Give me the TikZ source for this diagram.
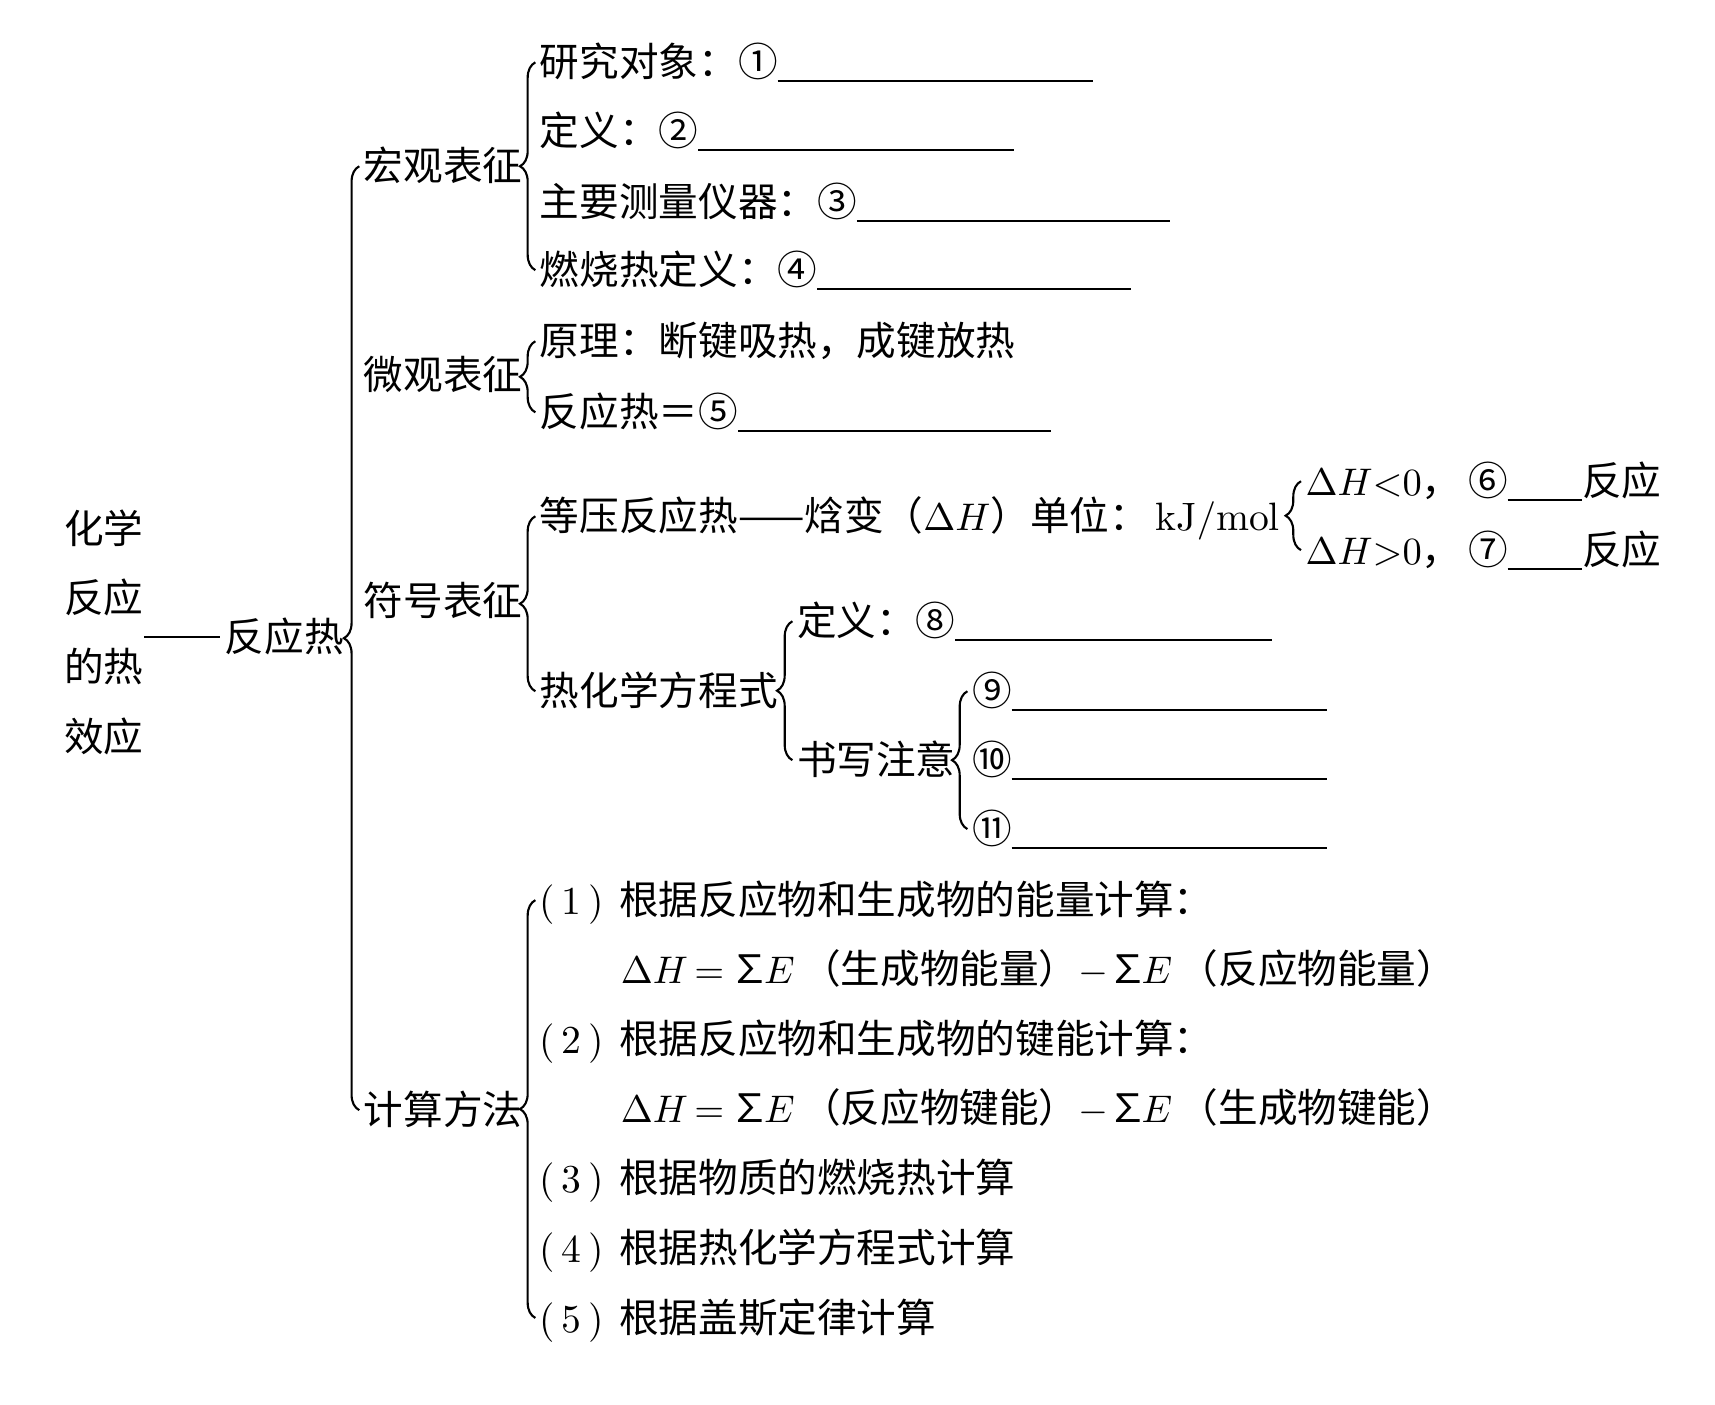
\documentclass[tikz,border=0pt]{standalone}
\usepackage{fontspec}
\newfontfamily\cjk{Noto Sans CJK SC}
\usepackage{tikz}
\usetikzlibrary{decorations.pathreplacing}

\newcommand{\blank}[1]{\rule[-1.5pt]{#1}{0.5pt}}
\newcommand{\itemno}[1]{\makebox[2em][l]{\rmfamily(\,#1\,)}}

\begin{document}
\begin{tikzpicture}[x=0.01cm, y=-0.01cm,
    every node/.style={font=\cjk\fontsize{10.3pt}{18pt}\selectfont, inner sep=0pt},
    item/.style={anchor=base west},
    title/.style={align=center, anchor=center},
    brc/.style={decorate, decoration={brace, amplitude=4pt}, line width=0.55pt},
]
\useasboundingbox (0,0) rectangle (1568,1284);

\node[title] (title) at (95,578) {化学\\反应\\的热\\效应};
\node[item] (fyr) at (205,596) {反应热};

\node[item] (hg) at (332,165) {宏观表征};
\node[item] (wg) at (332,356) {微观表征};
\node[item] (fh) at (332,563) {符号表征};
\node[item] (js) at (332,1028) {计算方法};

% 宏观表征
\node[item] (yj) at (493,70) {研究对象：①\blank{2.88cm}};
\node[item] (dy) at (493,133) {定义：②\blank{2.88cm}};
\node[item] (cl) at (493,198) {主要测量仪器：③\blank{2.86cm}};
\node[item] (rs) at (493,260) {燃烧热定义：④\blank{2.87cm}};

% 微观表征
\node[item] (yl) at (493,325) {原理：断键吸热，成键放热};
\node[item] (fy) at (493,390) {反应热＝⑤\blank{2.86cm}};

% 符号表征
\node[item] (dyr) at (493,485) {等压反应热——焓变（$\Delta H$）单位：\,$\mathrm{kJ/mol}$};
\node[item] (fr) at (1193,453) {$\Delta H{<}0$，\,⑥\blank{0.68cm}反应};
\node[item] (xr) at (1193,516) {$\Delta H{>}0$，\,⑦\blank{0.68cm}反应};
\node[item] (rhx) at (493,645) {热化学方程式};
\node[item] (dy8) at (728,581) {定义：⑧\blank{2.89cm}};
\node[item] (sx) at (728,708) {书写注意};
\node[item] (z9) at (888,645) {⑨\blank{2.88cm}};
\node[item] (z10) at (888,708) {⑩\blank{2.88cm}};
\node[item] (z11) at (888,771) {⑪\blank{2.88cm}};

% 计算方法
\node[item] (m1) at (493,836) {\itemno{1}根据反应物和生成物的能量计算：};
\node[item] (f1) at (567,899) {$\Delta H\,{=}\,$∑$\!E$\,（生成物能量）$-$∑$\!E$\,（反应物能量）};
\node[item] (m2) at (493,963) {\itemno{2}根据反应物和生成物的键能计算：};
\node[item] (f2) at (567,1026) {$\Delta H\,{=}\,$∑$\!E$\,（反应物键能）$-$∑$\!E$\,（生成物键能）};
\node[item] (m3) at (493,1090) {\itemno{3}根据物质的燃烧热计算};
\node[item] (m4) at (493,1154) {\itemno{4}根据热化学方程式计算};
\node[item] (m5) at (493,1218) {\itemno{5}根据盖斯定律计算};

\draw[line width=0.55pt] (title.east |- fyr.west) -- ([xshift=-1pt]fyr.west);

\draw[brc] ([xshift=-1pt,yshift=3.7pt]js.base west) -- ([xshift=-1pt,yshift=3.7pt]hg.base west);
\draw[brc] ([xshift=-1pt,yshift=3.7pt]rs.base west) -- ([xshift=-1pt,yshift=3.7pt]yj.base west);
\draw[brc] ([xshift=-1pt,yshift=3.7pt]fy.base west) -- ([xshift=-1pt,yshift=3.7pt]yl.base west);
\draw[brc] ([xshift=-1pt,yshift=3.7pt]rhx.base west) -- ([xshift=-1pt,yshift=3.7pt]dyr.base west);
\draw[brc] ([xshift=-1pt,yshift=3.7pt]xr.base west) -- ([xshift=-1pt,yshift=3.7pt]fr.base west);
\draw[brc] ([xshift=-1pt,yshift=3.7pt]sx.base west) -- ([xshift=-1pt,yshift=3.7pt]dy8.base west);
\draw[brc] ([xshift=-1pt,yshift=3.7pt]z11.base west) -- ([xshift=-1pt,yshift=3.7pt]z9.base west);
\draw[brc] ([xshift=-1pt,yshift=3.7pt]m5.base west) -- ([xshift=-1pt,yshift=3.7pt]m1.base west);

\end{tikzpicture}
\end{document}
